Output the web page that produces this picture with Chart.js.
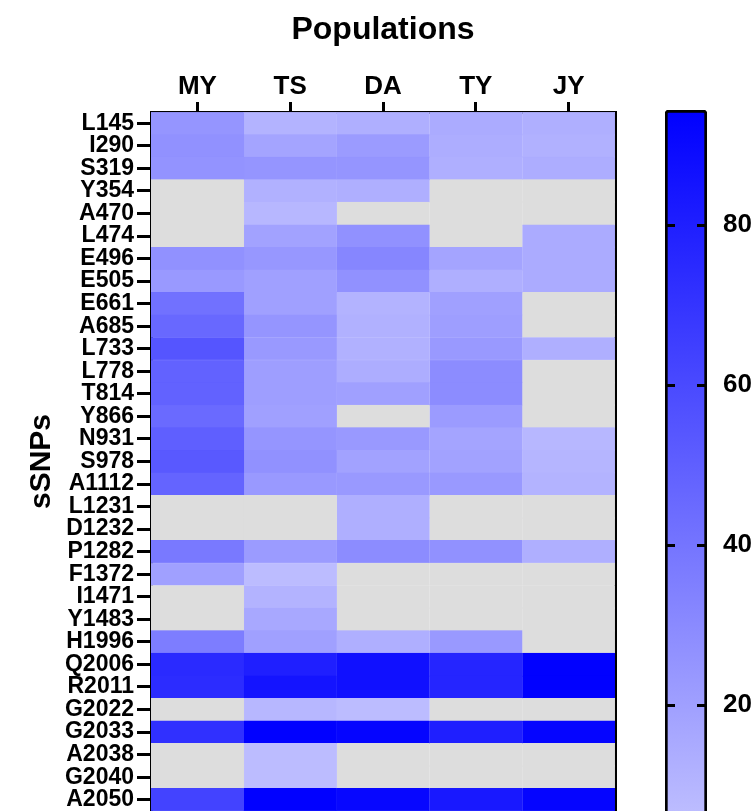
<!DOCTYPE html>
<html>
<head>
<meta charset="utf-8">
<script src="https://cdn.jsdelivr.net/npm/chart.js@4.4.1/dist/chart.umd.min.js"></script>
<style>
  html, body { margin: 0; padding: 0; background: #fff; overflow: hidden; }
  #wrap { position: relative; width: 756px; height: 811px; }
  #heatBox { position: absolute; left: 0; top: 0; width: 640px; height: 811px; }
  #barBox { position: absolute; left: 640px; top: 0; width: 116px; height: 811px; }
</style>
</head>
<body>
<div id="wrap">
  <div id="heatBox"><canvas id="heatmap"></canvas></div>
  <div id="barBox"><canvas id="colorbar"></canvas></div>
</div>
<script>
// rows (sSNPs) and columns (populations)
const snps = ['L145', 'I290', 'S319', 'Y354', 'A470', 'L474', 'E496', 'E505', 'E661', 'A685',
    'L733', 'L778', 'T814', 'Y866', 'N931', 'S978', 'A1112', 'L1231', 'D1232', 'P1282',
    'F1372', 'I1471', 'Y1483', 'H1996', 'Q2006', 'R2011', 'G2022', 'G2033', 'A2038', 'G2040', 'A2050'];
const populations = ['MY', 'TS', 'DA', 'TY', 'JY'];

// values per population, null = no data (grey)
const valMY = [25, 27, 26, null, null, null, 27, 23, 42, 46, 55, 49, 49, 45, 50, 53, 48, null, null, 38,
    20, null, null, 36, 75, 74, null, 72, null, null, 63];
const valTS = [11, 18, 25, 12, 9, 19, 24, 20, 20, 25, 23, 21, 21, 20, 25, 27, 23, null, null, 22,
    7, 11, 16, 20, 80, 85, 9, 94, 7, 7, 94];
const valDA = [13, 22, 25, 13, null, 27, 32, 27, 11, 12, 12, 14, 20, null, 23, 19, 23, 13, 13, 29,
    null, null, null, 13, 87, 87, 7, 92, null, null, 91];
const valTY = [15, 14, 13, null, null, null, 18, 13, 20, 21, 23, 29, 29, 22, 18, 19, 23, null, null, 27,
    null, null, null, 23, 77, 77, null, 80, null, null, 83];
const valJY = [13, 12, 14, null, null, 15, 15, 15, null, null, 13, null, null, null, 9, 10, 11, null, null, 13,
    null, null, null, null, 94, 94, null, 92, null, null, 92];
const columns = [valMY, valTS, valDA, valTY, valJY];

// colour scale
const colorLow = 5;
const colorHigh = 94.4;
const barMin = 6.75;
const barTicks = [20, 40, 60, 80];

const missingColor = '#dddddd';

function colorFor(v) {
    if (v === null || v === undefined) return missingColor;
    let t = (v - colorLow) / (colorHigh - colorLow);
    t = Math.max(0, Math.min(1, t));
    const c = Math.round(192 * (1 - t));
    return 'rgb(' + c + ',' + c + ',255)';
}

// no end padding, so the plot runs to the bottom edge like the original crop
function noPadding(scale) {
    scale.paddingTop = 0;
    scale.paddingBottom = 0;
    scale.paddingLeft = 0;
    scale.paddingRight = 0;
}

Chart.defaults.font.family = '"Liberation Sans", Arial, sans-serif';
Chart.defaults.font.weight = 'bold';
Chart.defaults.color = '#000';

new Chart(document.getElementById('heatmap'), {
    type: 'bar',
    data: {
        labels: snps,
        datasets: columns.map((vals, c) => ({
            label: populations[c],
            data: snps.map(() => [c - 0.5, c + 0.5]),
            backgroundColor: vals.map(colorFor),
            borderColor: vals.map(colorFor),
            borderWidth: 0.5,
            barPercentage: 1,
            categoryPercentage: 1,
            grouped: false
        }))
    },
    options: {
        indexAxis: 'y',
        responsive: true,
        maintainAspectRatio: false,
        animation: false,
        layout: { padding: { left: 0, right: 25, top: 0, bottom: 0 } },
        plugins: {
            legend: { display: false },
            tooltip: { enabled: false }
        },
        scales: {
            x: {
                type: 'linear',
                position: 'top',
                min: -0.5,
                max: 4.5,
                afterBuildTicks: (scale) => {
                    scale.ticks = populations.map((p, i) => ({ value: i }));
                },
                afterFit: (scale) => { scale.height = 112; noPadding(scale); },
                ticks: {
                    font: { size: 26 },
                    padding: 0,
                    maxRotation: 0,
                    callback: (value) => populations[value]
                },
                grid: {
                    drawOnChartArea: false,
                    tickLength: 10,
                    lineWidth: 3,
                    color: '#000'
                },
                border: { display: true, width: 3, color: '#000' },
                title: {
                    display: true,
                    text: 'Populations',
                    font: { size: 32 },
                    padding: { top: 11 }
                }
            },
            y: {
                type: 'category',
                position: 'left',
                afterFit: (scale) => { scale.width = 151; noPadding(scale); },
                ticks: {
                    font: { size: 23 },
                    padding: 3,
                    autoSkip: false
                },
                grid: {
                    offset: false,
                    drawOnChartArea: false,
                    tickLength: 14,
                    lineWidth: 3,
                    color: '#000'
                },
                border: { display: true, width: 3, color: '#000' },
                title: {
                    display: true,
                    text: 'sSNPs',
                    font: { size: 30 },
                    padding: { top: 24 }
                }
            },
            yRight: {
                type: 'category',
                position: 'right',
                labels: snps,
                afterFit: (scale) => { scale.width = 0; noPadding(scale); },
                ticks: { display: false },
                grid: { display: false },
                border: { display: true, width: 3, color: '#000' }
            }
        }
    }
});

// colour bar: tick marks point inwards from both edges (negative tick length)
const barTickMarks = {
    drawOnChartArea: false,
    drawTicks: true,
    tickLength: -10,
    lineWidth: 3,
    color: '#000',
    z: 1
};

new Chart(document.getElementById('colorbar'), {
    type: 'bar',
    data: {
        labels: [''],
        datasets: [{
            data: [[barMin, colorHigh]],
            backgroundColor: (ctx) => {
                const chart = ctx.chart;
                if (!chart.chartArea) return colorFor(colorHigh);
                const ys = chart.scales.y;
                const g = chart.ctx.createLinearGradient(0, ys.getPixelForValue(colorHigh), 0, ys.getPixelForValue(barMin));
                g.addColorStop(0, colorFor(colorHigh));
                g.addColorStop(1, colorFor(barMin));
                return g;
            },
            borderColor: '#000',
            borderWidth: 3,
            borderRadius: 4,
            borderSkipped: 'bottom',
            barPercentage: 1,
            categoryPercentage: 1
        }]
    },
    options: {
        responsive: true,
        maintainAspectRatio: false,
        animation: false,
        layout: { padding: { left: 25, right: 0, top: 110, bottom: 0 } },
        plugins: {
            legend: { display: false },
            tooltip: { enabled: false }
        },
        scales: {
            x: { display: false },
            y: {
                position: 'right',
                min: barMin,
                max: colorHigh,
                afterBuildTicks: (scale) => {
                    scale.ticks = barTicks.map(v => ({ value: v }));
                },
                afterFit: (scale) => { scale.width = 49; noPadding(scale); },
                ticks: {
                    font: { size: 26 },
                    padding: 26
                },
                grid: barTickMarks,
                border: { display: false }
            },
            yLeft: {
                position: 'left',
                min: barMin,
                max: colorHigh,
                afterBuildTicks: (scale) => {
                    scale.ticks = barTicks.map(v => ({ value: v }));
                },
                afterFit: (scale) => { scale.width = 0; noPadding(scale); },
                ticks: { display: false },
                grid: barTickMarks,
                border: { display: false }
            }
        }
    }
});
</script>
</body>
</html>
